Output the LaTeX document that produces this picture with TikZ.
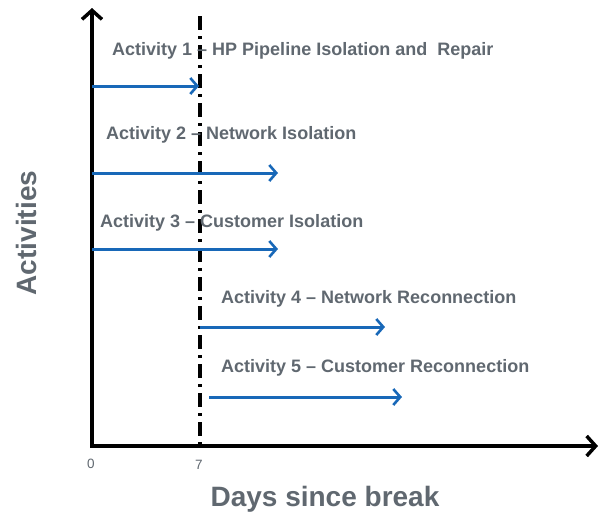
\documentclass[tikz,border=0pt]{standalone}
\usepackage{fontspec}
\setmainfont{Liberation Sans}
\usetikzlibrary{arrows.meta}
\definecolor{txtgray}{RGB}{96,104,112}
\definecolor{arrblue}{RGB}{24,104,184}
\tikzset{
  axis/.style={line width=3.5pt,-{Straight Barb[length=9pt,width=20pt,line width=3.5pt]}},
  actarrow/.style={arrblue,line width=3pt,-{Straight Barb[length=7pt,width=16pt,line width=2.6pt]}},
  actlabel/.style={anchor=west,inner sep=0pt,text=txtgray,font=\fontsize{18}{20}\selectfont\bfseries},
  ticklabel/.style={text=txtgray,font=\fontsize{13.5}{15}\selectfont,inner sep=0pt},
  axlabel/.style={text=txtgray,font=\fontsize{28}{30}\selectfont\bfseries,inner sep=0pt},
  dashdot/.style={line width=3.5pt,dash pattern=on 14pt off 6pt on 3pt off 6pt}
}
\begin{document}
\begin{tikzpicture}[x=1pt,y=-1pt]
\useasboundingbox (0,0) rectangle (600,515);
% axes
\coordinate (O) at (92,446);
\coordinate (Ytop) at (92,8);
\coordinate (Xend) at (598,446);
\coordinate (Dtop) at (200,16);
\coordinate (Dbot) at (200,446);
\draw[dashdot] (Dtop) -- (Dbot);
\draw[axis] ([yshift=1.75pt]O) -- (Ytop);
\draw[axis] ([xshift=-1.75pt]O) -- (Xend);
\node[ticklabel] (t0) at (91,464) {0};
\node[ticklabel] (t7) at (199,465) {7};
\node[axlabel] (xl) at (325,499) {Days since break};
\node[axlabel,rotate=90] (yl) at (26,233) {Activities};
% activities
\node[actlabel] (l1) at (112,51) {Activity 1 – HP Pipeline Isolation and\ \ Repair};
\node[actlabel] (l2) at (106,135) {Activity 2 – Network Isolation};
\node[actlabel] (l3) at (100,223) {Activity 3 – Customer Isolation};
\node[actlabel] (l4) at (221,299) {Activity 4 – Network Reconnection};
\node[actlabel] (l5) at (221,368) {Activity 5 – Customer Reconnection};
\coordinate (a1s) at (92,86);  \coordinate (a1e) at (199,86);
\coordinate (a2s) at (92,173); \coordinate (a2e) at (278,173);
\coordinate (a3s) at (92,249); \coordinate (a3e) at (278,249);
\coordinate (a4s) at (200,327); \coordinate (a4e) at (385,327);
\coordinate (a5s) at (209,397); \coordinate (a5e) at (402,397);
\draw[actarrow] (a1s) -- (a1e);
\draw[actarrow] (a2s) -- (a2e);
\draw[actarrow] (a3s) -- (a3e);
\draw[actarrow] (a4s) -- (a4e);
\draw[actarrow] (a5s) -- (a5e);
\end{tikzpicture}
\end{document}
